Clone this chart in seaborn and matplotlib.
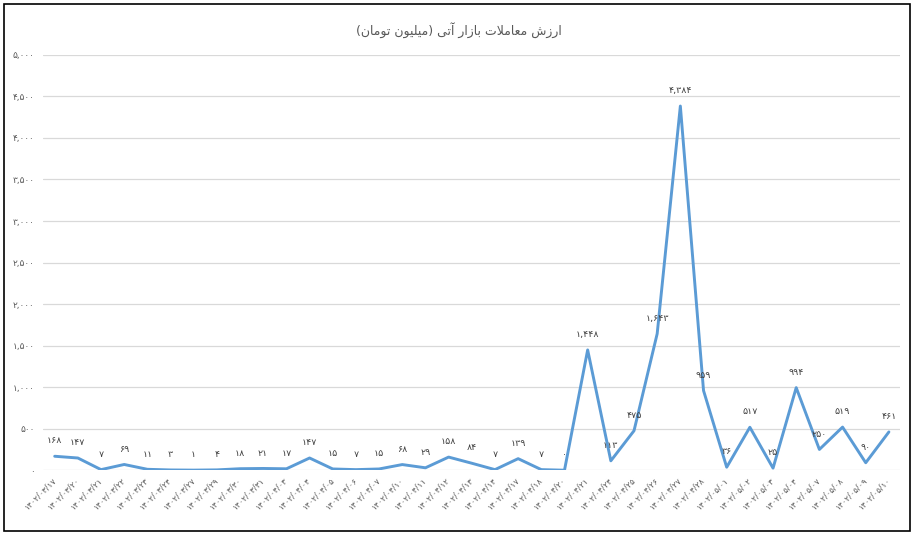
import pandas as pd
import matplotlib.pyplot as plt
import seaborn as sns
from matplotlib.patches import Rectangle

# chart data
dates = ["1402/03/17", "1402/03/20", "1402/03/21", "1402/03/22", "1402/03/23",
         "1402/03/24", "1402/03/27", "1402/03/29", "1402/03/30", "1402/03/31",
         "1402/04/03", "1402/04/04", "1402/04/05", "1402/04/06", "1402/04/07",
         "1402/04/10", "1402/04/11", "1402/04/12", "1402/04/13", "1402/04/14",
         "1402/04/17", "1402/04/18", "1402/04/20", "1402/04/21", "1402/04/24",
         "1402/04/25", "1402/04/26", "1402/04/27", "1402/04/28", "1402/05/01",
         "1402/05/02", "1402/05/03", "1402/05/04", "1402/05/07", "1402/05/08",
         "1402/05/09", "1402/05/10"]
values = [168, 147, 7, 69, 11, 3, 1, 4, 18, 21, 17, 147, 15, 7, 15, 68, 29, 158,
          84, 7, 139, 7, 0, 1448, 113, 475, 1643, 4384, 959, 36, 517, 25, 994,
          250, 519, 90, 461]
y_ticks = [0, 500, 1000, 1500, 2000, 2500, 3000, 3500, 4000, 4500, 5000]
title = "ارزش معاملات بازار آتی (میلیون تومان)"

PERSIAN_DIGITS = str.maketrans("0123456789", "۰۱۲۳۴۵۶۷۸۹")

# presentation forms: isolated, final, initial, medial
FORMS = {
    'ا': ('\uFE8D', '\uFE8E', None, None),
    'آ': ('\uFE81', '\uFE82', None, None),
    'ب': ('\uFE8F', '\uFE90', '\uFE91', '\uFE92'),
    'ت': ('\uFE95', '\uFE96', '\uFE97', '\uFE98'),
    'ر': ('\uFEAD', '\uFEAE', None, None),
    'ز': ('\uFEAF', '\uFEB0', None, None),
    'ش': ('\uFEB5', '\uFEB6', '\uFEB7', '\uFEB8'),
    'ع': ('\uFEC9', '\uFECA', '\uFECB', '\uFECC'),
    'ل': ('\uFEDD', '\uFEDE', '\uFEDF', '\uFEE0'),
    'م': ('\uFEE1', '\uFEE2', '\uFEE3', '\uFEE4'),
    'ن': ('\uFEE5', '\uFEE6', '\uFEE7', '\uFEE8'),
    'و': ('\uFEED', '\uFEEE', None, None),
    'ی': ('\uFEEF', '\uFEF0', '\uFEF3', '\uFEF4'),
}
LAM_ALEF = {'ا': ('\uFEFB', '\uFEFC'), 'آ': ('\uFEF5', '\uFEF6')}


def shape_rtl(text):
    # join the letters and put them in visual (left to right) order
    out = []
    i = 0
    while i < len(text):
        c = text[i]
        if c not in FORMS:
            out.append(c)
            i += 1
            continue
        prev = text[i - 1] if i > 0 else ''
        joins_prev = prev in FORMS and FORMS[prev][2] is not None
        if c == 'ل' and i + 1 < len(text) and text[i + 1] in LAM_ALEF:
            lig = LAM_ALEF[text[i + 1]]
            out.append(lig[1] if joins_prev else lig[0])
            i += 2
            continue
        nxt = text[i + 1] if i + 1 < len(text) else ''
        iso, fin, ini, med = FORMS[c]
        joins_next = ini is not None and nxt in FORMS
        if joins_prev and joins_next:
            out.append(med)
        elif joins_prev:
            out.append(fin)
        elif joins_next:
            out.append(ini)
        else:
            out.append(iso)
        i += 1
    return ''.join(reversed(out)).translate(str.maketrans('()', ')('))


def fa_num(v):
    return f"{v:,}".translate(PERSIAN_DIGITS)


df = pd.DataFrame({"date": [d.translate(PERSIAN_DIGITS) for d in dates], "value": values})

sns.set_theme(style="white")
plt.rcParams['font.family'] = ['DejaVu Sans']

fig = plt.figure(figsize=(9.17, 5.38), dpi=100)
ax = fig.add_axes([0.047, 0.126, 0.935, 0.772])

sns.lineplot(data=df, x="date", y="value", sort=False, color="#5B9BD5",
             linewidth=2.1, ax=ax)

ax.set_xlim(-0.5, len(dates) - 0.5)
ax.set_ylim(0, 5000)
ax.set_yticks(y_ticks)
ax.set_yticklabels([fa_num(t) for t in y_ticks], fontsize=6.5, color="#595959")
ax.yaxis.grid(True, color="#D9D9D9", linewidth=0.9)
ax.xaxis.grid(False)
ax.tick_params(axis="y", length=0, pad=6)
ax.tick_params(axis="x", length=0, pad=6)
plt.setp(ax.get_xticklabels(), rotation=45, ha="right", va="center",
         rotation_mode="anchor", fontsize=6, color="#595959")
for s in ax.spines.values():
    s.set_visible(False)
ax.set_xlabel("")
ax.set_ylabel("")

for i, v in enumerate(values):
    ax.annotate(fa_num(v), (i, v), xytext=(0, 11), textcoords="offset points",
                ha="center", va="center", fontsize=6.8, color="#404040")

fig.text(0.5, 0.944, shape_rtl(title), ha="center", va="center",
         fontsize=9, color="#595959")

fig.patches.append(Rectangle((0.004, 0.013), 0.988, 0.98, transform=fig.transFigure,
                             fill=False, edgecolor="black", linewidth=1.2))

fig.savefig("out.png", dpi=100)
